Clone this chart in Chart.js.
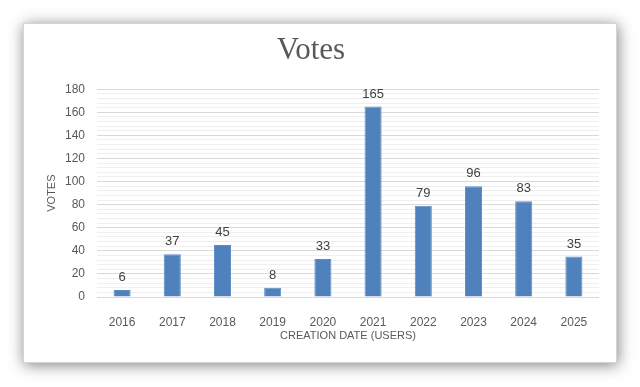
<!DOCTYPE html>
<html>
<head>
<meta charset="utf-8">
<script src="https://cdn.jsdelivr.net/npm/chart.js@4/dist/chart.umd.min.js"></script>
<style>
    html, body { margin: 0; padding: 0; background: #fff; }
    body { width: 640px; height: 387px; position: relative; overflow: hidden; }
    #frame {
        position: absolute; left: 23px; top: 23px; width: 594px; height: 340px;
        box-sizing: border-box; border: 1px solid #d4d4d4; background: #fff;
        box-shadow: 1px 2px 14px rgba(0, 0, 0, 0.5);
    }
    #wrap { position: absolute; left: 23px; top: 23px; width: 594px; height: 340px; }
</style>
</head>
<body>
<div id="frame"></div>
<div id="wrap"><canvas id="votesChart" width="594" height="340"></canvas></div>
<script>
    var years = ['2016', '2017', '2018', '2019', '2020', '2021', '2022', '2023', '2024', '2025'];
    var votes = [6, 37, 45, 8, 33, 165, 79, 96, 83, 35];

    var textColor = '#595959';

    // value labels above each bar
    var barLabels = {
        id: 'barLabels',
        afterDatasetsDraw: function (chart) {
            var ctx = chart.ctx;
            var meta = chart.getDatasetMeta(0);
            ctx.save();
            ctx.fillStyle = '#404040';
            ctx.font = '13px "Liberation Sans", Arial, sans-serif';
            ctx.textAlign = 'center';
            ctx.textBaseline = 'bottom';
            meta.data.forEach(function (bar, i) {
                ctx.fillText(String(votes[i]), bar.x, bar.y - 6);
            });
            ctx.restore();
        }
    };

    var ctx = document.getElementById('votesChart').getContext('2d');
    var votesChart = new Chart(ctx, {
        type: 'bar',
        data: {
            labels: years,
            datasets: [{
                label: 'Votes',
                data: votes,
                backgroundColor: '#4f81bd',
                borderColor: '#5d8cc6',
                borderWidth: 1,
                barPercentage: 0.34,
                categoryPercentage: 1
            }]
        },
        options: {
            responsive: false,
            animation: false,
            layout: { padding: { left: 0, right: 18, top: 0, bottom: 0 } },
            plugins: {
                legend: { display: false },
                tooltip: { enabled: false },
                title: {
                    display: true,
                    text: 'Votes',
                    color: textColor,
                    font: { family: '"Liberation Serif", "Times New Roman", serif', size: 31, weight: 'normal' },
                    padding: { top: 9, bottom: 20 }
                }
            },
            scales: {
                x: {
                    grid: { display: false },
                    border: { display: false },
                    ticks: {
                        color: textColor,
                        padding: 10,
                        font: { family: '"Liberation Sans", Arial, sans-serif', size: 12 }
                    },
                    title: {
                        display: true,
                        text: 'CREATION DATE (USERS)',
                        color: textColor,
                        font: { family: '"Liberation Sans", Arial, sans-serif', size: 11 },
                        padding: { top: 0, bottom: 20 }
                    },
                    afterFit: function (scale) { scale.height = 66; }
                },
                y: {
                    min: 0,
                    max: 180,
                    border: { display: false },
                    grid: {
                        drawTicks: false,
                        color: function (c) {
                            return c.tick && c.tick.value % 20 === 0 ? '#d9d9d9' : '#efefef';
                        }
                    },
                    ticks: {
                        stepSize: 4,
                        autoSkip: false,
                        color: textColor,
                        padding: 12,
                        font: { family: '"Liberation Sans", Arial, sans-serif', size: 12 },
                        callback: function (value) { return value % 20 === 0 ? value : ''; }
                    },
                    title: {
                        display: true,
                        text: 'VOTES',
                        color: textColor,
                        font: { family: '"Liberation Sans", Arial, sans-serif', size: 11 },
                        padding: { top: 22, bottom: 0 }
                    },
                    afterFit: function (scale) { scale.width = 74; }
                }
            }
        },
        plugins: [barLabels]
    });
</script>
</body>
</html>
